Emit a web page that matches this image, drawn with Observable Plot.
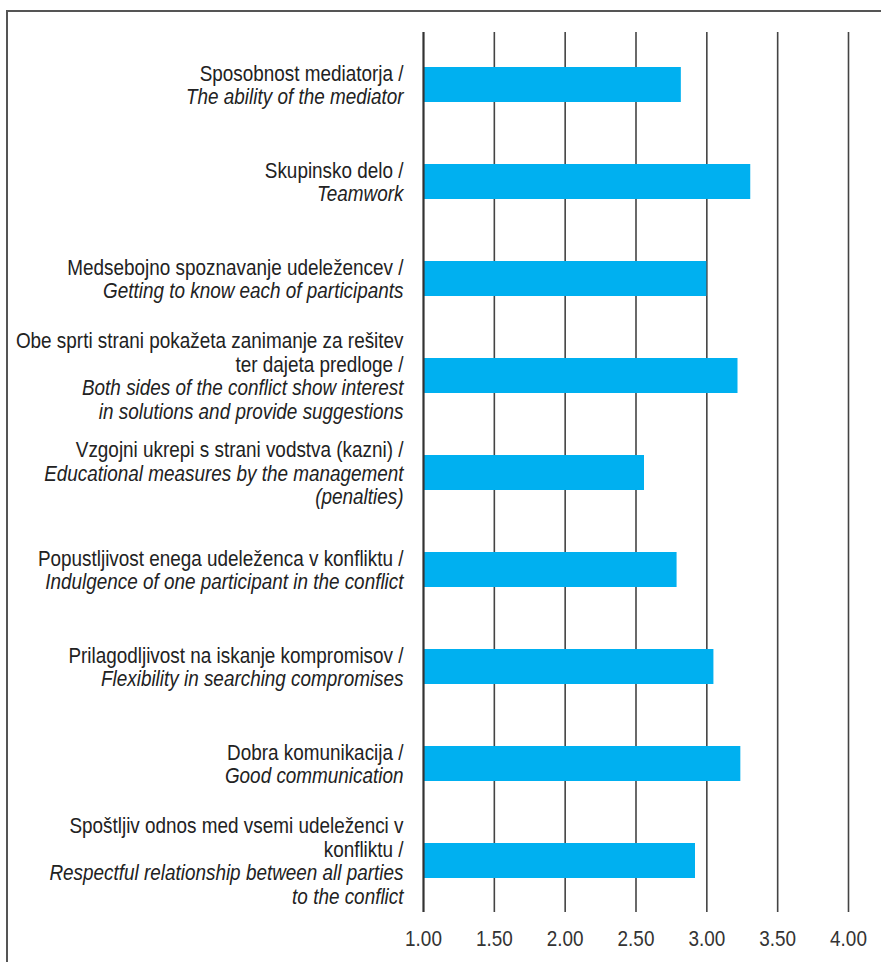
<!DOCTYPE html>
<html><head><meta charset="utf-8">
<script src="https://cdn.jsdelivr.net/npm/d3@7"></script>
<script src="https://cdn.jsdelivr.net/npm/@observablehq/plot@0.6"></script>
<style>
body{margin:0;background:#fff;}
#wrap{position:relative;width:881px;height:962px;overflow:hidden;background:#fff;}
#frame{position:absolute;left:6px;top:10px;width:1000px;height:1000px;border-top:2px solid #555;border-left:2px solid #555;}
#chart{position:absolute;left:0;top:0;}
</style></head><body><div id="wrap"><div id="frame"></div><div id="chart"></div></div>
<script>
const slovenian = [
  "Sposobnost mediatorja /",
  "Skupinsko delo /",
  "Medsebojno spoznavanje udeležencev /",
  "Obe sprti strani pokažeta zanimanje za rešitev\nter dajeta predloge /",
  "Vzgojni ukrepi s strani vodstva (kazni) /",
  "Popustljivost enega udeleženca v konfliktu /",
  "Prilagodljivost na iskanje kompromisov /",
  "Dobra komunikacija /",
  "Spoštljiv odnos med vsemi udeleženci v\nkonfliktu /"
];
const english = [
  "The ability of the mediator",
  "Teamwork",
  "Getting to know each of participants",
  "Both sides of the conflict show interest\nin solutions and provide suggestions",
  "Educational measures by the management\n(penalties)",
  "Indulgence of one participant in the conflict",
  "Flexibility in searching compromises",
  "Good communication",
  "Respectful relationship between all parties\nto the conflict"
];
const values = [2.82, 3.31, 3.00, 3.22, 2.56, 2.79, 3.05, 3.24, 2.92];
const tickValues = [1, 1.5, 2, 2.5, 3, 3.5, 4];

const categories = slovenian;
const nLines = s => s.split("\n").length;
const rows = categories.map((c, i) => ({
  cat: c,
  value: values[i],
  sl: slovenian[i] + "\n".repeat(nLines(english[i])),
  en: "\n".repeat(nLines(slovenian[i])) + english[i]
}));

function hasFont(name){
  const c = document.createElement("canvas").getContext("2d");
  const s = "Sposobnost mediatorja abcdefghij 1.00";
  c.font = "40px monospace"; const a = c.measureText(s).width;
  c.font = `40px "${name}", monospace`; const b = c.measureText(s).width;
  return a !== b;
}
const narrow = ["Liberation Sans Narrow", "Arial Narrow", "Nimbus Sans Narrow"].find(hasFont);
const FONT = narrow ? `"${narrow}", sans-serif` : `"Liberation Sans", Arial, sans-serif`;
const FS = 22.5;

const chart = Plot.plot({
  width: 881, height: 962,
  marginLeft: 423, marginRight: 33, marginTop: 32, marginBottom: 50,
  style: {fontFamily: FONT, fontSize: FS + "px", color: "#222", background: "transparent"},
  x: {domain: [1, 4], axis: null},
  y: {domain: categories, paddingInner: 0.64, paddingOuter: 0.32, axis: null},
  marks: [
    Plot.ruleX(tickValues.slice(1), {stroke: "#444", strokeWidth: 1.6}),
    Plot.barX(rows, {y: "cat", x1: 1, x2: "value", fill: "#00b0f0"}),
    Plot.ruleX(tickValues.slice(0, 1), {stroke: "#333", strokeWidth: 2.2}),
    Plot.axisX(tickValues, {tickSize: 0, tickPadding: 18, tickFormat: d => d.toFixed(2), fontSize: FS, fill: "#333", label: null}),
    Plot.text(rows, {y: "cat", text: "sl", frameAnchor: "left", dx: -20, textAnchor: "end", lineAnchor: "middle", lineHeight: 1.05, fill: "#222", fontSize: FS, className: "lbl"}),
    Plot.text(rows, {y: "cat", text: "en", frameAnchor: "left", dx: -20, textAnchor: "end", lineAnchor: "middle", lineHeight: 1.05, fill: "#222", fontSize: FS, fontStyle: "italic", className: "lbl"})
  ]
});
document.getElementById("chart").appendChild(chart);

if (!narrow) {
  chart.querySelectorAll("text").forEach(t => {
    const parts = t.querySelectorAll("tspan");
    const els = parts.length ? Array.from(parts) : [t];
    els.forEach(e => {
      const w = e.getComputedTextLength();
      if (w > 0) { e.setAttribute("textLength", (w * 0.84).toFixed(1)); e.setAttribute("lengthAdjust", "spacingAndGlyphs"); }
    });
  });
}
</script>
</body></html>
